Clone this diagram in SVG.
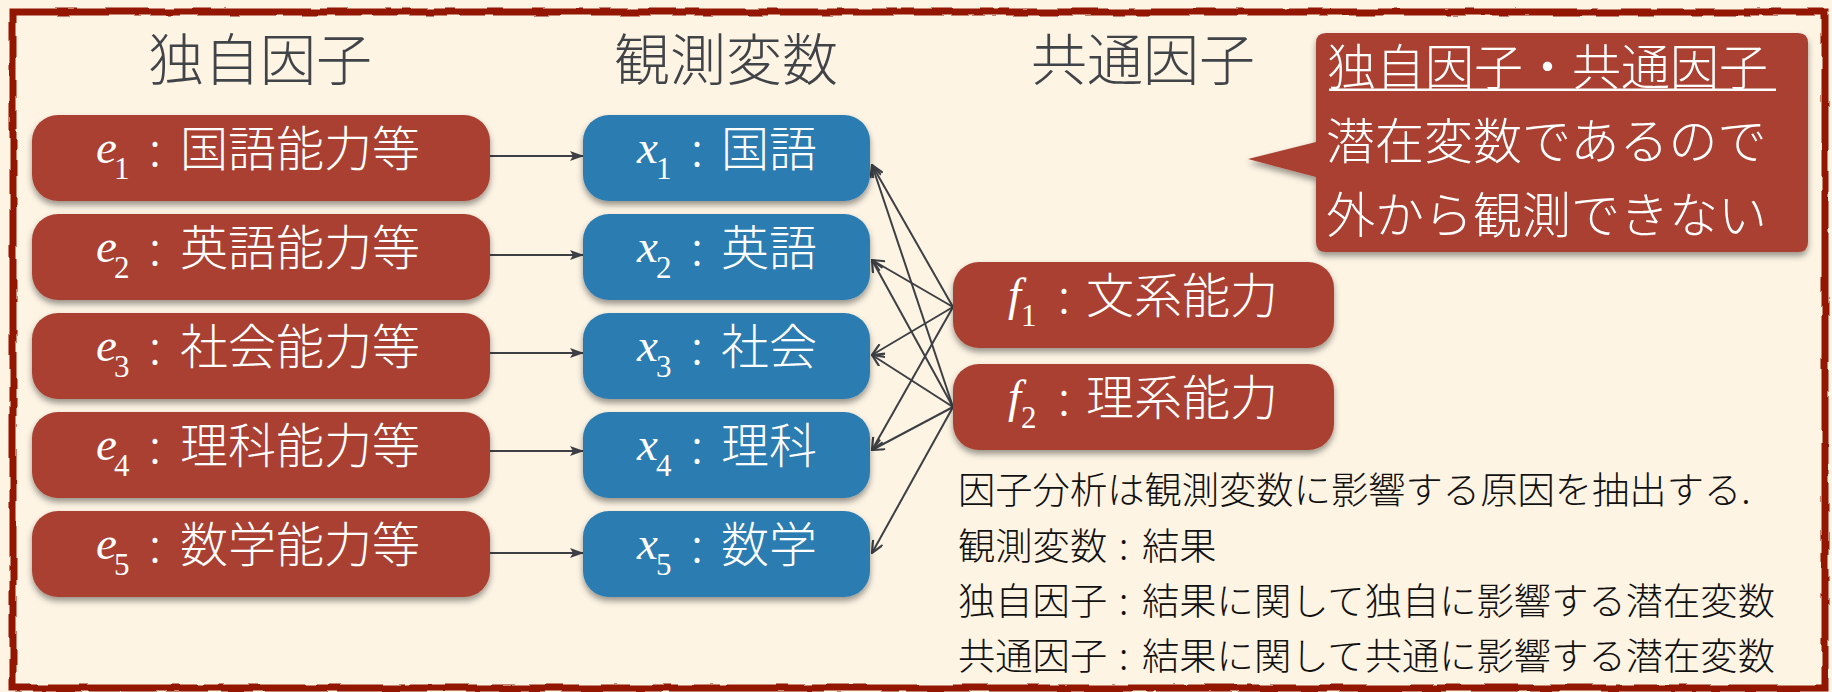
<svg xmlns="http://www.w3.org/2000/svg" width="1832" height="692" viewBox="0 0 1832 692">
<defs>
<style>
.bg{fill:#fdf4e4}
.frame{fill:none;stroke:#931602;stroke-width:7}
.red{fill:#aa4130}
.blue{fill:#2b7cb1}
.title{font-family:"Noto Sans CJK JP","Noto Sans",sans-serif;font-size:56px;font-weight:300;fill:#404347;text-anchor:middle}
.bt{font-family:"Noto Sans CJK JP","Noto Sans",sans-serif;font-size:48px;font-weight:300;fill:#ffffff}
.it{font-family:"Liberation Serif",serif;font-style:italic;font-size:47px}
.sub{font-family:"Liberation Serif",serif;font-size:31px}
.ct{font-family:"Noto Sans CJK JP","Noto Sans",sans-serif;font-size:49px;font-weight:300;fill:#ffffff}
.note{font-family:"Noto Sans CJK JP","Noto Sans",sans-serif;font-size:37.3px;font-weight:300;fill:#111111}
.conn{stroke:#3c3f44;stroke-width:2;fill:none}
</style>
<filter id="sh" x="-10%" y="-20%" width="120%" height="150%">
<feDropShadow dx="0" dy="4" stdDeviation="3" flood-color="#000" flood-opacity="0.4"/>
</filter>
<filter id="rough" x="-2%" y="-5%" width="104%" height="110%">
<feTurbulence type="fractalNoise" baseFrequency="0.04" numOctaves="2" seed="3"/>
<feDisplacementMap in="SourceGraphic" scale="4"/>
</filter>
<marker id="ah" viewBox="0 0 14 10" refX="13" refY="5" markerWidth="14" markerHeight="10" markerUnits="userSpaceOnUse" orient="auto">
<path d="M0,0 L14,5 L0,10 L3,5 Z" fill="#3c3f44"/>
</marker>
<marker id="av" viewBox="0 0 14 12" refX="13" refY="6" markerWidth="14" markerHeight="12" markerUnits="userSpaceOnUse" orient="auto">
<path d="M1,0.5 L13,6 L1,11.5" fill="none" stroke="#3c3f44" stroke-width="2.2"/>
</marker>
</defs>
<rect class="bg" x="0" y="0" width="1832" height="692"/>
<g id="frame" filter="url(#rough)">
<rect class="frame" x="13" y="12" width="1812" height="676"/>
</g>
<g id="titles">
<text class="title" x="260" y="80">独自因子</text>
<text class="title" x="726" y="80">観測変数</text>
<text class="title" x="1143" y="80">共通因子</text>
</g>
<g id="connectors">
<line class="conn" x1="490" y1="156" x2="583" y2="156" marker-end="url(#ah)"/>
<line class="conn" x1="490" y1="255" x2="583" y2="255" marker-end="url(#ah)"/>
<line class="conn" x1="490" y1="353" x2="583" y2="353" marker-end="url(#ah)"/>
<line class="conn" x1="490" y1="451" x2="583" y2="451" marker-end="url(#ah)"/>
<line class="conn" x1="490" y1="553" x2="583" y2="553" marker-end="url(#ah)"/>
<line class="conn" x1="953" y1="307" x2="872" y2="165" marker-end="url(#av)"/>
<line class="conn" x1="953" y1="307" x2="872" y2="260" marker-end="url(#av)"/>
<line class="conn" x1="953" y1="307" x2="872" y2="355" marker-end="url(#av)"/>
<line class="conn" x1="953" y1="307" x2="872" y2="450" marker-end="url(#av)"/>
<line class="conn" x1="953" y1="407" x2="872" y2="165" marker-end="url(#av)"/>
<line class="conn" x1="953" y1="407" x2="872" y2="260" marker-end="url(#av)"/>
<line class="conn" x1="953" y1="407" x2="872" y2="355" marker-end="url(#av)"/>
<line class="conn" x1="953" y1="407" x2="872" y2="450" marker-end="url(#av)"/>
<line class="conn" x1="953" y1="407" x2="872" y2="553" marker-end="url(#av)"/>
</g>
<g id="e1"><rect class="red" x="32" y="115" width="458" height="86" rx="26" filter="url(#sh)"/>
<text class="bt"><tspan class="it" x="96" y="163">e</tspan><tspan class="sub" x="114" y="179">1</tspan><tspan x="149" y="166">:</tspan><tspan x="180" y="166">国語能力等</tspan></text></g>
<g id="e2"><rect class="red" x="32" y="214" width="458" height="86" rx="26" filter="url(#sh)"/>
<text class="bt"><tspan class="it" x="96" y="262">e</tspan><tspan class="sub" x="114" y="278">2</tspan><tspan x="149" y="265">:</tspan><tspan x="180" y="265">英語能力等</tspan></text></g>
<g id="e3"><rect class="red" x="32" y="313" width="458" height="86" rx="26" filter="url(#sh)"/>
<text class="bt"><tspan class="it" x="96" y="361">e</tspan><tspan class="sub" x="114" y="377">3</tspan><tspan x="149" y="364">:</tspan><tspan x="180" y="364">社会能力等</tspan></text></g>
<g id="e4"><rect class="red" x="32" y="412" width="458" height="86" rx="26" filter="url(#sh)"/>
<text class="bt"><tspan class="it" x="96" y="460">e</tspan><tspan class="sub" x="114" y="476">4</tspan><tspan x="149" y="463">:</tspan><tspan x="180" y="463">理科能力等</tspan></text></g>
<g id="e5"><rect class="red" x="32" y="511" width="458" height="86" rx="26" filter="url(#sh)"/>
<text class="bt"><tspan class="it" x="96" y="559">e</tspan><tspan class="sub" x="114" y="575">5</tspan><tspan x="149" y="562">:</tspan><tspan x="180" y="562">数学能力等</tspan></text></g>
<g id="x1"><rect class="blue" x="583" y="115" width="287" height="86" rx="26" filter="url(#sh)"/>
<text class="bt"><tspan class="it" x="637" y="163">x</tspan><tspan class="sub" x="656" y="179">1</tspan><tspan x="691" y="166">:</tspan><tspan x="721" y="166">国語</tspan></text></g>
<g id="x2"><rect class="blue" x="583" y="214" width="287" height="86" rx="26" filter="url(#sh)"/>
<text class="bt"><tspan class="it" x="637" y="262">x</tspan><tspan class="sub" x="656" y="278">2</tspan><tspan x="691" y="265">:</tspan><tspan x="721" y="265">英語</tspan></text></g>
<g id="x3"><rect class="blue" x="583" y="313" width="287" height="86" rx="26" filter="url(#sh)"/>
<text class="bt"><tspan class="it" x="637" y="361">x</tspan><tspan class="sub" x="656" y="377">3</tspan><tspan x="691" y="364">:</tspan><tspan x="721" y="364">社会</tspan></text></g>
<g id="x4"><rect class="blue" x="583" y="412" width="287" height="86" rx="26" filter="url(#sh)"/>
<text class="bt"><tspan class="it" x="637" y="460">x</tspan><tspan class="sub" x="656" y="476">4</tspan><tspan x="691" y="463">:</tspan><tspan x="721" y="463">理科</tspan></text></g>
<g id="x5"><rect class="blue" x="583" y="511" width="287" height="86" rx="26" filter="url(#sh)"/>
<text class="bt"><tspan class="it" x="637" y="559">x</tspan><tspan class="sub" x="656" y="575">5</tspan><tspan x="691" y="562">:</tspan><tspan x="721" y="562">数学</tspan></text></g>
<g id="f1"><rect class="red" x="953" y="262" width="381" height="86" rx="26" filter="url(#sh)"/>
<text class="bt"><tspan class="it" x="1008" y="310">f</tspan><tspan class="sub" x="1021" y="326">1</tspan><tspan x="1058" y="313">:</tspan><tspan x="1086" y="313">文系能力</tspan></text></g>
<g id="f2"><rect class="red" x="953" y="364" width="381" height="86" rx="26" filter="url(#sh)"/>
<text class="bt"><tspan class="it" x="1008" y="412">f</tspan><tspan class="sub" x="1021" y="428">2</tspan><tspan x="1058" y="415">:</tspan><tspan x="1086" y="415">理系能力</tspan></text></g>
<g id="callout">
<path class="red" filter="url(#sh)" d="M1326,33 H1798 Q1808,33 1808,43 V242 Q1808,252 1798,252 H1326 Q1316,252 1316,242 V177 L1248,159 L1316,142 V43 Q1316,33 1326,33 Z"/>
<text class="ct" x="1327" y="85">独自因子・共通因子</text>
<rect x="1329" y="88.5" width="447" height="2.5" fill="#ffffff"/>
<text class="ct" x="1326" y="159">潜在変数であるので</text>
<text class="ct" x="1326" y="233">外から観測できない</text>
</g>
<g id="notes">
<text class="note" x="958" y="504">因子分析は観測変数に影響する原因を抽出する.</text>
<text class="note" y="560"><tspan x="958">観測変数</tspan><tspan x="1119">:</tspan><tspan x="1142">結果</tspan></text>
<text class="note" y="615"><tspan x="958">独自因子</tspan><tspan x="1119">:</tspan><tspan x="1142">結果に関して独自に影響する潜在変数</tspan></text>
<text class="note" y="670"><tspan x="958">共通因子</tspan><tspan x="1119">:</tspan><tspan x="1142">結果に関して共通に影響する潜在変数</tspan></text>
</g>
</svg>
